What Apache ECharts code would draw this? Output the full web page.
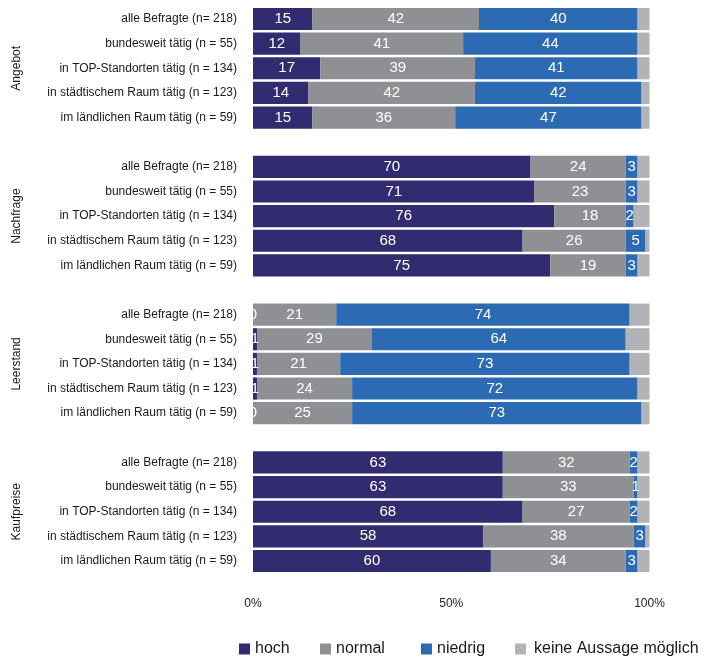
<!DOCTYPE html>
<html>
<head>
<meta charset="utf-8">
<script src="https://cdn.jsdelivr.net/npm/echarts@6/dist/echarts.min.js"></script>
<style>
  html, body { margin: 0; padding: 0; background: #fff; }
  #chart { width: 707px; height: 659px; }
</style>
</head>
<body>
<div id="chart"></div>
<script>
// Survey groups and respondent segments
const groups = ['Angebot', 'Nachfrage', 'Leerstand', 'Kaufpreise'];
const segments = [
  'alle Befragte (n= 218)',
  'bundesweit tätig (n = 55)',
  'in TOP-Standorten tätig (n = 134)',
  'in städtischem Raum tätig (n = 123)',
  'im ländlichen Raum tätig (n = 59)'
];

// Shares in percent per group, one entry per segment
const hochAngebot = [15, 12, 17, 14, 15];
const normalAngebot = [42, 41, 39, 42, 36];
const niedrigAngebot = [40, 44, 41, 42, 47];

const hochNachfrage = [70, 71, 76, 68, 75];
const normalNachfrage = [24, 23, 18, 26, 19];
const niedrigNachfrage = [3, 3, 2, 5, 3];

const hochLeerstand = [0, 1, 1, 1, 0];
const normalLeerstand = [21, 29, 21, 24, 25];
const niedrigLeerstand = [74, 64, 73, 72, 73];

const hochKaufpreise = [63, 63, 68, 58, 60];
const normalKaufpreise = [32, 33, 27, 38, 34];
const niedrigKaufpreise = [2, 1, 2, 3, 3];

const xTicks = [0, 50, 100];
const seriesNames = ['hoch', 'normal', 'niedrig', 'keine Aussage möglich'];
const colors = ['#322b6f', '#8f9094', '#2d6ab4', '#b2b3b7'];

const byGroup = [
  [hochAngebot, normalAngebot, niedrigAngebot],
  [hochNachfrage, normalNachfrage, niedrigNachfrage],
  [hochLeerstand, normalLeerstand, niedrigLeerstand],
  [hochKaufpreise, normalKaufpreise, niedrigKaufpreise]
];

// Build the category list (with a blank spacer row between groups)
const categories = [];
const cols = [[], [], [], []];
groups.forEach((g, gi) => {
  segments.forEach((s, si) => {
    categories.push(g + '|' + s);
    const h = byGroup[gi][0][si], n = byGroup[gi][1][si], l = byGroup[gi][2][si];
    cols[0].push(h);
    cols[1].push(n);
    cols[2].push(l);
    cols[3].push(Math.max(0, 100 - h - n - l));
  });
  if (gi < groups.length - 1) {
    categories.push('gap' + gi);
    cols.forEach(c => c.push('-'));
  }
});

const font = 'Liberation Sans, Arial, sans-serif';
const chart = echarts.init(document.getElementById('chart'), null, { renderer: 'canvas' });

const series = seriesNames.map((name, i) => ({
  name,
  type: 'bar',
  stack: 'total',
  data: cols[i],
  barCategoryGap: '10%',
  itemStyle: { color: colors[i] },
  label: {
    show: i < 3,
    position: 'inside',
    color: '#fff',
    fontFamily: font,
    fontSize: 15
  },
  emphasis: { disabled: true }
}));

// One legend block per entry so each sits at its own spot along the bottom row
const legendLefts = [239, 320, 421, 515];
const legends = seriesNames.map((n, i) => ({
  left: legendLefts[i],
  top: 641,
  padding: 0,
  itemWidth: 11,
  itemHeight: 11,
  icon: 'rect',
  selectedMode: false,
  textStyle: {
    color: '#1a1a1a',
    fontFamily: font,
    fontSize: 16,
    padding: i === 3 ? [0, 0, 0, 3] : 0
  },
  data: [n]
}));

chart.setOption({
  animation: false,
  backgroundColor: '#fff',
  grid: { left: 253, right: 57.5, top: 6.7, bottom: 85.7, containLabel: false },
  xAxis: {
    type: 'value',
    min: 0,
    max: 100,
    interval: 50,
    axisLine: { show: false },
    axisTick: { show: false },
    splitLine: { show: false },
    axisLabel: {
      margin: 24,
      color: '#222',
      fontFamily: font,
      fontSize: 12,
      formatter: v => (xTicks.indexOf(v) >= 0 ? v + '%' : '')
    }
  },
  yAxis: {
    type: 'category',
    inverse: true,
    data: categories,
    axisLine: { show: false },
    axisTick: { show: false },
    splitLine: { show: false },
    axisLabel: {
      margin: 16,
      color: '#1a1a1a',
      fontFamily: font,
      fontSize: 12,
      formatter: v => (v.indexOf('|') >= 0 ? v.split('|')[1] : '')
    }
  },
  legend: legends,
  series
});

// Rotated group titles, centred on the middle row of each block
const groupLabels = groups.map(g => {
  const y = chart.convertToPixel({ yAxisIndex: 0 }, g + '|' + segments[2]);
  return {
    type: 'text',
    x: 17,
    y: y,
    rotation: Math.PI / 2,
    style: {
      text: g,
      fill: '#1a1a1a',
      font: '12px ' + font,
      align: 'center',
      verticalAlign: 'middle'
    }
  };
});
chart.setOption({ graphic: groupLabels });
</script>
</body>
</html>
